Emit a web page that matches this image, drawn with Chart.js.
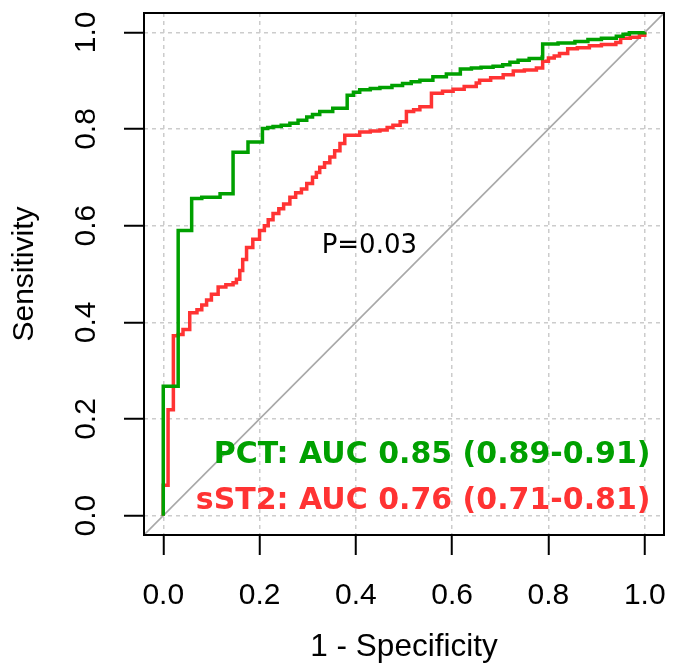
<!DOCTYPE html>
<html>
<head>
<meta charset="utf-8">
<title>ROC PCT vs sST2</title>
<script src="https://cdn.jsdelivr.net/npm/chart.js@4"></script>
<style>
  body { margin: 0; background: #fff; }
  #wrap { width: 681px; height: 666px; }
</style>
</head>
<body>
<div id="wrap"><canvas id="rocChart"></canvas></div>
<script>
// ROC points: 1 - specificity / sensitivity
var pctFpr = [0, 0, 0.031, 0.059, 0.08, 0.118, 0.145, 0.176, 0.206, 0.217, 0.228, 0.245, 0.263, 0.28, 0.298, 0.31, 0.325, 0.352, 0.382, 0.395, 0.408, 0.43, 0.45, 0.475, 0.497, 0.515, 0.533, 0.56, 0.588, 0.617, 0.64, 0.66, 0.685, 0.705, 0.72, 0.737, 0.76, 0.787, 0.788, 0.82, 0.855, 0.882, 0.91, 0.941, 0.955, 0.968, 1.0];
var pctTpr = [0, 0.268, 0.59, 0.656, 0.659, 0.666, 0.752, 0.773, 0.801, 0.803, 0.805, 0.808, 0.812, 0.818, 0.825, 0.83, 0.836, 0.843, 0.87, 0.876, 0.881, 0.884, 0.886, 0.89, 0.894, 0.898, 0.901, 0.908, 0.914, 0.924, 0.926, 0.928, 0.93, 0.933, 0.938, 0.942, 0.946, 0.949, 0.976, 0.978, 0.981, 0.985, 0.988, 0.992, 0.996, 0.999, 1.0];

var sst2Fpr = [0, 0, 0.01, 0.021, 0.031, 0.041, 0.055, 0.07, 0.08, 0.09, 0.1, 0.114, 0.13, 0.145, 0.152, 0.159, 0.165, 0.173, 0.186, 0.2, 0.21, 0.218, 0.228, 0.24, 0.25, 0.263, 0.275, 0.287, 0.298, 0.31, 0.318, 0.325, 0.335, 0.346, 0.356, 0.367, 0.377, 0.408, 0.43, 0.45, 0.465, 0.477, 0.492, 0.505, 0.52, 0.533, 0.557, 0.58, 0.602, 0.625, 0.65, 0.657, 0.68, 0.706, 0.727, 0.75, 0.775, 0.788, 0.8, 0.812, 0.823, 0.84, 0.86, 0.885, 0.91, 0.94, 0.95, 0.97, 0.989, 1.0];
var sst2Tpr = [0, 0.063, 0.219, 0.372, 0.375, 0.385, 0.42, 0.426, 0.436, 0.446, 0.458, 0.473, 0.478, 0.482, 0.489, 0.507, 0.53, 0.555, 0.572, 0.59, 0.6, 0.612, 0.625, 0.635, 0.645, 0.659, 0.668, 0.676, 0.687, 0.7, 0.71, 0.721, 0.73, 0.742, 0.755, 0.77, 0.787, 0.794, 0.796, 0.798, 0.803, 0.808, 0.815, 0.836, 0.84, 0.846, 0.874, 0.878, 0.882, 0.888, 0.895, 0.901, 0.906, 0.912, 0.92, 0.922, 0.926, 0.94, 0.947, 0.951, 0.956, 0.966, 0.968, 0.972, 0.975, 0.979, 0.988, 0.99, 0.994, 1.0];

var tickValues = [0, 0.2, 0.4, 0.6, 0.8, 1.0];
var axisRange = [-0.04, 1.04];
var curveLabels = ["PCT: AUC 0.85 (0.89-0.91)", "sST2: AUC 0.76 (0.71-0.81)"];
var pLabel = "P=0.03";

var pctColor = "#00a000";
var sst2Color = "#ff3333";

function toPoints(xs, ys) {
	var out = [];
	for (var i = 0; i < xs.length; i++) {
		out.push({x: xs[i], y: ys[i]});
	}
	return out;
}

Chart.defaults.font.family = '"Liberation Sans", Arial, sans-serif';
Chart.defaults.color = "#000";

// frame, rotated y labels and the text notes
var extras = {
	id: "extras",
	afterDatasetsDraw: function(chart) {
		var ctx = chart.ctx;
		var a = chart.chartArea;
		var xs = chart.scales.x;
		var ys = chart.scales.y;
		ctx.save();
		ctx.strokeStyle = "#000";
		ctx.lineWidth = 2;
		ctx.strokeRect(a.left, a.top, a.right - a.left, a.bottom - a.top);

		ctx.fillStyle = "#000";
		ctx.font = '30px "Liberation Sans", Arial, sans-serif';
		ctx.textAlign = "center";
		ctx.textBaseline = "alphabetic";
		tickValues.forEach(function(v) {
			ctx.save();
			ctx.translate(a.left - 49, ys.getPixelForValue(v));
			ctx.rotate(-Math.PI / 2);
			ctx.fillText(v.toFixed(1), 0, 0);
			ctx.restore();
		});

		ctx.font = '26px "DejaVu Sans"';
		ctx.fillText(pLabel, xs.getPixelForValue(0.428), ys.getPixelForValue(0.543));

		ctx.font = 'bold 30px "DejaVu Sans"';
		ctx.textAlign = "right";
		ctx.fillStyle = pctColor;
		ctx.fillText(curveLabels[0], xs.getPixelForValue(1.012), ys.getPixelForValue(0.11));
		ctx.fillStyle = sst2Color;
		ctx.fillText(curveLabels[1], xs.getPixelForValue(1.012), ys.getPixelForValue(0.014));
		ctx.restore();
	}
};

function fixedTicks(scale) {
	scale.ticks = tickValues.map(function(v) { return {value: v}; });
}

var gridOpts = {
	color: "#cccccc",
	lineWidth: 1.5,
	drawTicks: true,
	tickLength: 20,
	tickColor: "#000",
	tickWidth: 2,
	tickBorderDash: []
};

var ctx = document.getElementById("rocChart");

var rocChart = new Chart(ctx, {
	type: "scatter",
	data: {
		datasets: [
			{
				label: "PCT",
				data: toPoints(pctFpr, pctTpr),
				showLine: true,
				stepped: true,
				borderColor: pctColor,
				borderWidth: 3.5,
				pointRadius: 0,
				fill: false
			},
			{
				label: "sST2",
				data: toPoints(sst2Fpr, sst2Tpr),
				showLine: true,
				stepped: true,
				borderColor: sst2Color,
				borderWidth: 3.5,
				pointRadius: 0,
				fill: false
			},
			{
				label: "chance",
				data: toPoints(axisRange, axisRange),
				showLine: true,
				borderColor: "#a8a8a8",
				borderWidth: 1.6,
				pointRadius: 0,
				fill: false
			}
		]
	},
	options: {
		responsive: true,
		maintainAspectRatio: false,
		animation: false,
		layout: { padding: { top: 13, right: 17, bottom: 0, left: 0 } },
		plugins: {
			legend: { display: false },
			tooltip: { enabled: false }
		},
		scales: {
			x: {
				type: "linear",
				min: axisRange[0],
				max: axisRange[1],
				afterBuildTicks: fixedTicks,
				afterFit: function(s) {
					s.height = 131;
					s.paddingLeft = 0;
					s.paddingRight = 0;
				},
				grid: gridOpts,
				border: { display: false, dash: [4, 4] },
				ticks: {
					font: { size: 30 },
					color: "#000",
					padding: 23,
					maxRotation: 0,
					autoSkip: false,
					callback: function(v) { return v.toFixed(1); }
				},
				title: {
					display: true,
					text: "1 - Specificity",
					font: { size: 31.5 },
					color: "#000",
					padding: { top: 0, bottom: 0 }
				}
			},
			y: {
				type: "linear",
				min: axisRange[0],
				max: axisRange[1],
				afterBuildTicks: fixedTicks,
				afterFit: function(s) {
					s.width = 144;
					s.paddingTop = 0;
					s.paddingBottom = 0;
				},
				grid: gridOpts,
				border: { display: false, dash: [4, 4] },
				ticks: { display: false },
				title: {
					display: true,
					text: "Sensitivity",
					font: { size: 30 },
					color: "#000",
					padding: { top: 7, bottom: 0 }
				}
			}
		}
	},
	plugins: [extras]
});
</script>
</body>
</html>
